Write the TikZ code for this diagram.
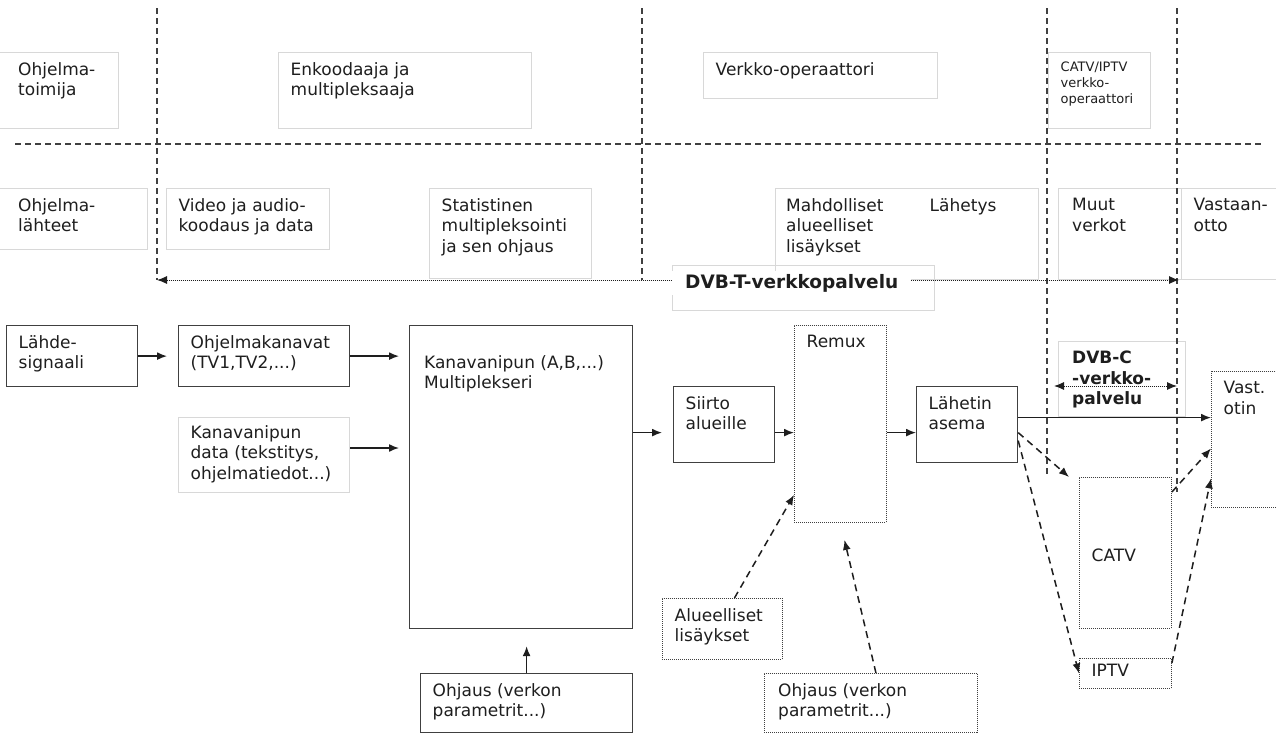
\documentclass[tikz,border=0pt]{standalone}
\usepackage{fontspec}
\setmainfont{DejaVu Sans}
\usepackage{tikz}
\usetikzlibrary{arrows.meta}

\definecolor{ink}{HTML}{1E1E1E}
\definecolor{boxgray}{HTML}{404040}
\definecolor{faint}{HTML}{D8D8D8}
\newcommand{\txtfont}{\fontsize{17}{20.5}\selectfont}
\newcommand{\catfont}{\fontsize{13}{16}\selectfont}
\newcommand{\dvbfont}{\fontsize{18.5}{22}\selectfont\bfseries}

\tikzset{
  boxsize/.style 2 args={minimum width=#1, minimum height=#2},
  sbox/.style={draw=boxgray, line width=1.2pt, anchor=north west, inner sep=0pt},
  dbox/.style={draw=boxgray, line width=0.9pt, dash pattern=on 1pt off 1pt, anchor=north west, inner sep=0pt},
  fbox/.style={draw=faint, line width=1pt, anchor=north west, inner sep=0pt},
  txt/.style={anchor=north west, align=left, inner xsep=12.5pt, inner ysep=10pt, font=\txtfont, text=ink},
  sep/.style={draw=boxgray, line width=1.1pt, dash pattern=on 6pt off 4pt},
  arr/.style={draw=ink, line width=1.5pt, -{Latex[length=10pt,width=8pt]}},
  darr/.style={arr, dash pattern=on 7pt off 5pt},
  dotarr/.style={draw=ink, line width=1pt, dash pattern=on 1pt off 1pt, {Latex[length=10pt,width=8pt]}-{Latex[length=10pt,width=8pt]}},
}

\begin{document}
\begin{tikzpicture}[x=1pt, y=-1pt]
  \fill[white] (0,0) rectangle (1276,736);
  \useasboundingbox (0,0) rectangle (1276,736);

  % roles, top row
  \node[fbox, boxsize={121}{76}] (toimija) at (-3,52) {};
  \node[txt, xshift=8.5pt] (toimijatxt) at (toimija.north west) {Ohjelma-\\toimija};
  \node[fbox, boxsize={253}{76}] (enkoodaaja) at (278,52) {};
  \node[txt] (enkoodaajatxt) at (enkoodaaja.north west) {Enkoodaaja ja\\multipleksaaja};
  \node[fbox, boxsize={234}{46}] (verkko) at (703,52) {};
  \node[txt] (verkkotxt) at (verkko.north west) {Verkko-operaattori};
  \node[fbox, boxsize={102}{76}] (catviptv) at (1048,52) {};
  \node[txt, font=\catfont] (catviptvtxt) at (catviptv.north west) {CATV/IPTV\\verkko-\\operaattori};

  % phases, second row
  \node[fbox, boxsize={150}{61}] (lahteet) at (-3,188) {};
  \node[txt, xshift=8.5pt] (lahteettxt) at (lahteet.north west) {Ohjelma-\\lähteet};
  \node[fbox, boxsize={163}{61}] (video) at (166,188) {};
  \node[txt] (videotxt) at (video.north west) {Video ja audio-\\koodaus ja data};
  \node[fbox, boxsize={162}{90}] (statist) at (429,188) {};
  \node[txt] (statisttxt) at (statist.north west) {Statistinen\\multipleksointi\\ja sen ohjaus};
  \node[fbox, boxsize={263}{91}] (mahd) at (775,188) {};
  \node[txt, xshift=-1.5pt] (mahdtxt) at (mahd.north west) {Mahdolliset\\alueelliset\\lisäykset};
  \node[txt, xshift=142pt] (lahetystxt) at (mahd.north west) {Lähetys};
  \node[fbox, boxsize={123}{91}] (muut) at (1058,188) {};
  \node[txt, xshift=1.5pt] (muuttxt) at (muut.north west) {Muut\\verkot};
  \node[fbox, boxsize={100}{91}] (vastaan) at (1181,188) {};
  \node[txt] (vastaantxt) at (vastaan.north west) {Vastaan-\\otto};
  \node[fbox, boxsize={262}{45}] (dvbtbox) at (672,265) {};
  \node[fbox, boxsize={171}{75}] (kdata) at (178,417) {};
  \node[txt, yshift=2pt] (kdatatxt) at (kdata.north west) {Kanavanipun\\data (tekstitys,\\ohjelmatiedot...)};
  \node[fbox, boxsize={127}{75}] (dvbcbox) at (1058,341) {};
  \node[txt, font=\txtfont\bfseries, xshift=1.5pt] (dvbctxt) at (dvbcbox.north west) {DVB-C\\-verkko-\\palvelu};

  % separators
  \foreach \x/\yb in {157/280, 642/280, 1047/477, 1177/492}
    \draw[sep] (\x,8) -- (\x,\yb);
  \draw[sep] (15,144) -- (1262,144);

  % service spans
  \coordinate (dvbtL) at (157,280);
  \coordinate (dvbtR) at (1179,280);
  \draw[dotarr] (dvbtL) -- (dvbtR);
  \node[txt, font=\dvbfont, fill=white, anchor=west, inner xsep=13pt, inner ysep=3pt] (dvbttxt) at (672,283) {DVB-T-verkkopalvelu};
  \coordinate (dvbcL) at (1054,386);
  \coordinate (dvbcR) at (1177,386);
  \draw[dotarr] (dvbcL) -- (dvbcR);

  % signal chain
  \node[sbox, boxsize={131}{61}] (lahde) at (6,325) {};
  \node[txt] (lahdetxt) at (lahde.north west) {Lähde-\\signaali};
  \node[sbox, boxsize={171}{61}] (kanavat) at (178,325) {};
  \node[txt] (kanavattxt) at (kanavat.north west) {Ohjelmakanavat\\(TV1,TV2,...)};
  \node[sbox, boxsize={223}{303}] (mux) at (409,325) {};
  \node[txt, xshift=2.5pt, yshift=-20pt] (muxtxt) at (mux.north west) {Kanavanipun (A,B,...)\\Multiplekseri};
  \node[sbox, boxsize={212}{59}] (ohjaus) at (420,673) {};
  \node[txt] (ohjaustxt) at (ohjaus.north west) {Ohjaus (verkon\\parametrit...)};
  \node[sbox, boxsize={101}{76}] (siirto) at (673,386) {};
  \node[txt] (siirtotxt) at (siirto.north west) {Siirto\\alueille};
  \node[dbox, boxsize={92}{197}] (remux) at (794,325) {};
  \node[txt] (remuxtxt) at (remux.north west) {Remux};
  \node[sbox, boxsize={101}{76}] (lahetin) at (916,386) {};
  \node[txt] (lahetintxt) at (lahetin.north west) {Lähetin\\asema};
  \node[dbox, boxsize={75}{136}] (vastotin) at (1211,371) {};
  \node[txt] (vastotintxt) at (vastotin.north west) {Vast.\\otin};
  \node[dbox, boxsize={92}{151}] (catv) at (1079,477) {};
  \node[txt, yshift=-62pt] (catvtxt) at (catv.north west) {CATV};
  \node[dbox, boxsize={92}{30}] (iptv) at (1079,658) {};
  \node[txt, inner ysep=6pt] (iptvtxt) at (iptv.north west) {IPTV};
  \node[dbox, boxsize={120}{61}] (alue) at (662,598) {};
  \node[txt] (aluetxt) at (alue.north west) {Alueelliset\\lisäykset};
  \node[dbox, boxsize={213}{59}] (ohjausb) at (764,673) {};
  \node[txt, xshift=1.5pt] (ohjausbtxt) at (ohjausb.north west) {Ohjaus (verkon\\parametrit...)};

  % arrows
  \draw[arr, shorten >=11pt] (lahde) -- (kanavat);
  \draw[arr, shorten >=10pt] (kanavat.east) -- (kanavat.east -| mux.west);
  \draw[arr, shorten >=10pt] ([yshift=7pt]kdata.east) -- ([yshift=7pt]kdata.east -| mux.west);
  \draw[arr, shorten >=11pt] ([yshift=-8pt]siirto.west -| mux.east) -- ([yshift=-8pt]siirto.west);
  \draw[arr] ([yshift=-8pt]siirto.east) -- ([yshift=-8pt]siirto.east -| remux.west);
  \draw[arr] ([yshift=-8pt]lahetin.west -| remux.east) -- ([yshift=-8pt]lahetin.west);
  \draw[arr] ([yshift=7pt]lahetin.east) -- ([yshift=7pt]lahetin.east -| vastotin.west);
  \draw[arr, shorten >=17pt] (ohjaus.north) -- (ohjaus.north |- mux.south);

  \coordinate (remuxin) at ([shift={(4,17)}]remux.south);
  \draw[darr] ([xshift=12pt]alue.north) -- ([yshift=28pt]remux.south west);
  \draw[darr] ([xshift=5pt]ohjausb.north) -- (remuxin);
  \draw[darr] ([yshift=-8pt]lahetin.east) -- ([xshift=-10pt]catv.north west);
  \draw[darr] ([yshift=-16pt]lahetin.east) -- (iptv.west);
  \draw[darr] ([yshift=-15pt]catv.north east) -- ([yshift=-9pt]vastotin.west);
  \draw[darr] ([yshift=-5pt]iptv.north east) -- ([yshift=-39pt]vastotin.west);
\end{tikzpicture}
\end{document}
